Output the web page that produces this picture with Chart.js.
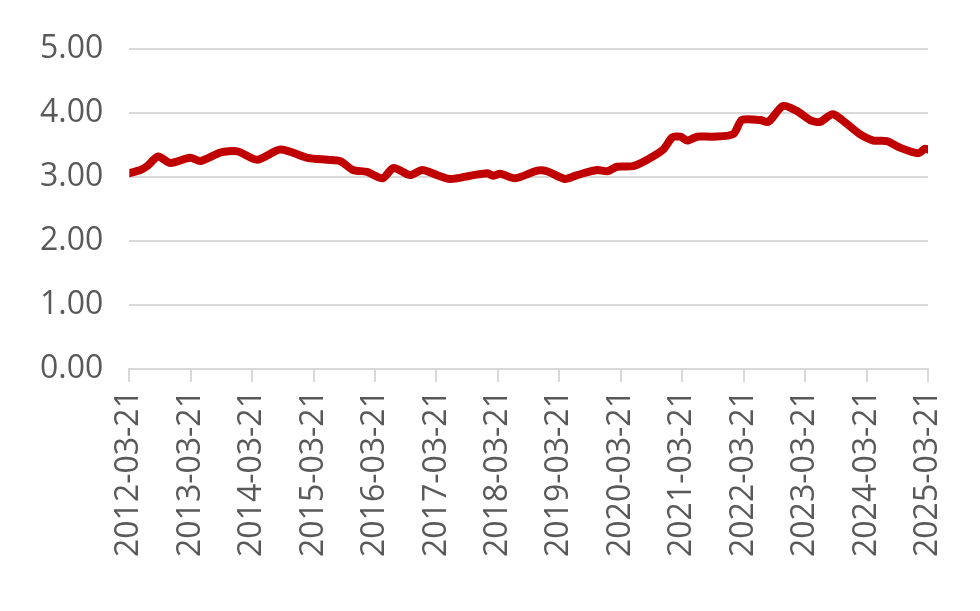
<!DOCTYPE html>
<html>
<head>
<meta charset="utf-8">
<script src="https://cdn.jsdelivr.net/npm/chart.js@4"></script>
<style>
  html, body { margin: 0; padding: 0; background: #fff; }
  #wrap { width: 980px; height: 611px; }
</style>
</head>
<body>
<div id="wrap"><canvas id="Chart"></canvas></div>
<script>
// tick labels, one per year on the x axis
const tickLabels = ['2012-03-21', '2013-03-21', '2014-03-21', '2015-03-21', '2016-03-21',
    '2017-03-21', '2018-03-21', '2019-03-21', '2020-03-21', '2021-03-21',
    '2022-03-21', '2023-03-21', '2024-03-21', '2025-03-21'];

// position of each point, in years after 2012-03-21
const yearsAfterStart = [0.00, 0.18, 0.29, 0.47, 0.67, 0.99, 1.16, 1.48, 1.76, 2.08,
    2.46, 2.90, 3.22, 3.43, 3.64, 3.87, 4.12, 4.30, 4.57, 4.77,
    5.01, 5.22, 5.55, 5.83, 5.92, 6.04, 6.28, 6.64, 6.80, 7.09,
    7.29, 7.61, 7.78, 7.94, 8.20, 8.43, 8.69, 8.84, 8.97, 9.08,
    9.24, 9.50, 9.83, 9.97, 10.27, 10.40, 10.64, 10.87, 11.08, 11.24,
    11.45, 11.68, 11.89, 12.11, 12.33, 12.54, 12.84, 12.95, 13.00];

const values = [3.06, 3.11, 3.17, 3.32, 3.22, 3.30, 3.25, 3.38, 3.40, 3.27,
    3.43, 3.30, 3.27, 3.25, 3.11, 3.08, 2.98, 3.14, 3.03, 3.11,
    3.03, 2.97, 3.02, 3.06, 3.02, 3.05, 2.98, 3.10, 3.09, 2.97,
    3.03, 3.11, 3.09, 3.16, 3.17, 3.27, 3.43, 3.62, 3.63, 3.57,
    3.63, 3.63, 3.67, 3.89, 3.89, 3.86, 4.11, 4.03, 3.89, 3.86,
    3.98, 3.83, 3.67, 3.57, 3.56, 3.46, 3.37, 3.44, 3.43];

const yTicks = [0, 1, 2, 3, 4, 5];

window.addEventListener('load', setup);

function setup() {
    const ctx = document.getElementById('Chart').getContext('2d');
    const points = yearsAfterStart.map((x, i) => ({ x: x, y: values[i] }));
    const grey = '#d9d9d9';
    const textColor = '#595959';
    const font = { family: 'Open Sans', size: 32 };

    new Chart(ctx, {
        type: 'line',
        data: {
            datasets: [{
                data: points,
                borderColor: '#c00000',
                borderWidth: 8,
                pointRadius: 0,
                tension: 0.25,
                borderCapStyle: 'round',
                borderJoinStyle: 'round',
                fill: false
            }]
        },
        options: {
            responsive: true,
            maintainAspectRatio: false,
            animation: false,
            layout: { padding: { top: 49, left: 14, right: 52, bottom: 46 } },
            plugins: { legend: { display: false }, tooltip: { enabled: false } },
            scales: {
                x: {
                    type: 'linear',
                    min: 0,
                    max: tickLabels.length - 1,
                    afterBuildTicks: axis => {
                        axis.ticks = tickLabels.map((t, i) => ({ value: i }));
                    },
                    ticks: {
                        autoSkip: false,
                        maxRotation: 90,
                        minRotation: 90,
                        padding: 8,
                        color: textColor,
                        font: font,
                        callback: v => tickLabels[v]
                    },
                    grid: {
                        drawOnChartArea: false,
                        drawTicks: true,
                        tickLength: 13,
                        color: grey,
                        lineWidth: 2
                    },
                    border: { color: grey, width: 2 }
                },
                y: {
                    min: 0,
                    max: 5,
                    afterBuildTicks: axis => {
                        axis.ticks = yTicks.map(v => ({ value: v }));
                    },
                    ticks: {
                        padding: 26,
                        color: textColor,
                        font: font,
                        callback: v => v.toFixed(2)
                    },
                    grid: { color: grey, lineWidth: 2, drawTicks: false },
                    border: { display: false }
                }
            }
        }
    });
}
</script>
</body>
</html>
